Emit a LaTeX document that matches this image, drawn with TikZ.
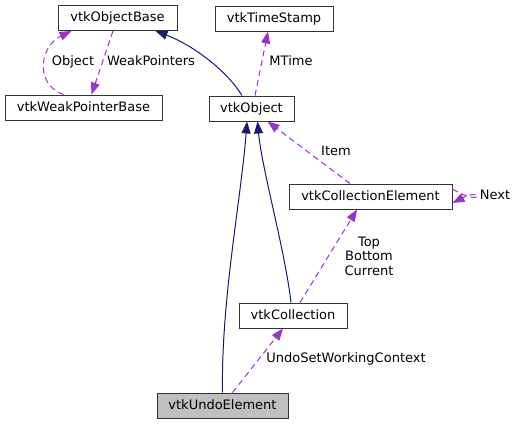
\documentclass[tikz,border=0pt]{standalone}
\usepackage{fontspec}
\setmainfont{DejaVu Sans}
\usetikzlibrary{arrows.meta}
\definecolor{navyc}{HTML}{191970}
\definecolor{purp}{HTML}{9A32CD}
\definecolor{selgray}{HTML}{BFBFBF}
\begin{document}
\begin{tikzpicture}[x=1pt,y=-1pt,
  txt/.style={font=\fontsize{13}{14.5}\selectfont, text height=9.5pt, text depth=2.5pt},
  box/.style={txt, draw=black!80, line width=0.9pt, minimum height=25pt, inner sep=0pt, anchor=center, fill=white},
  inh/.style={draw=navyc, line width=1pt, -{Triangle[length=12pt,width=9pt,fill=navyc]}},
  usage/.style={draw=purp, line width=1pt, dash pattern=on 6pt off 4pt, -{Triangle[length=12pt,width=9pt,fill=purp]}},
  lbl/.style={txt, inner sep=0pt, align=center}]
\useasboundingbox (0,0) rectangle (517,424);

\node[box, minimum width=119pt] (ob) at (117.5,18) {vtkObjectBase};
\node[box, minimum width=157pt] (wpb) at (83.5,107.5) {vtkWeakPointerBase};
\node[box, minimum width=118pt] (ts) at (274,18.5) {vtkTimeStamp};
\node[box, minimum width=85pt] (obj) at (251.5,108.5) {vtkObject};
\node[box, minimum width=163pt] (ce) at (370.5,196.5) {vtkCollectionElement};
\node[box, minimum width=108pt] (col) at (293,315.5) {vtkCollection};
\node[box, minimum width=131pt, fill=selgray] (ue) at (222.5,405.5) {vtkUndoElement};

% inheritance
\draw[inh] ([xshift=-9.5pt]obj.north) .. controls (225,68) and (190,44) .. ([xshift=38pt]ob.south);
\draw[inh] ([xshift=-2pt]col.north) .. controls (285,250) and (262,170) .. ([xshift=6pt]obj.south);
\draw[inh] ([xshift=0pt]ue.north) .. controls (221,300) and (241,200) .. ([xshift=-4.5pt]obj.south);

% usage
\draw[usage] ([xshift=-20pt]wpb.north) .. controls (34,84) and (40,46) .. ([xshift=-46pt]ob.south);
\node[lbl] (lobj) at (73,62) {Object};
\draw[usage] ([xshift=-4.5pt]ob.south) -- ([xshift=8pt]wpb.north);
\node[lbl] (lwp) at (151,62) {WeakPointers};
\draw[usage] ([xshift=3.5pt]obj.north) -- ([xshift=-6pt]ts.south);
\node[lbl] (lmt) at (291,62) {MTime};
\draw[usage] ([xshift=-20.5pt]ce.north) -- ([xshift=16pt]obj.south);
\node[lbl] (lit) at (336,152) {Item};
\draw[usage] ([yshift=7.5pt]ce.east) .. controls (484,208) and (484,187) .. ([yshift=-6.5pt]ce.east);
\node[lbl] (lnx) at (495,196) {Next};
\draw[usage] ([xshift=7pt]col.north) -- ([xshift=-13.5pt]ce.south);
\node[txt, inner sep=0pt, text height=, text depth=, align=center, font=\fontsize{13}{14.5}\selectfont] (ltb) at (369,256) {Top\\Bottom\\Current};
\draw[usage] ([xshift=10pt]ue.north) -- ([xshift=-10pt]col.south);
\node[lbl] (lus) at (346,359) {UndoSetWorkingContext};
\end{tikzpicture}
\end{document}
